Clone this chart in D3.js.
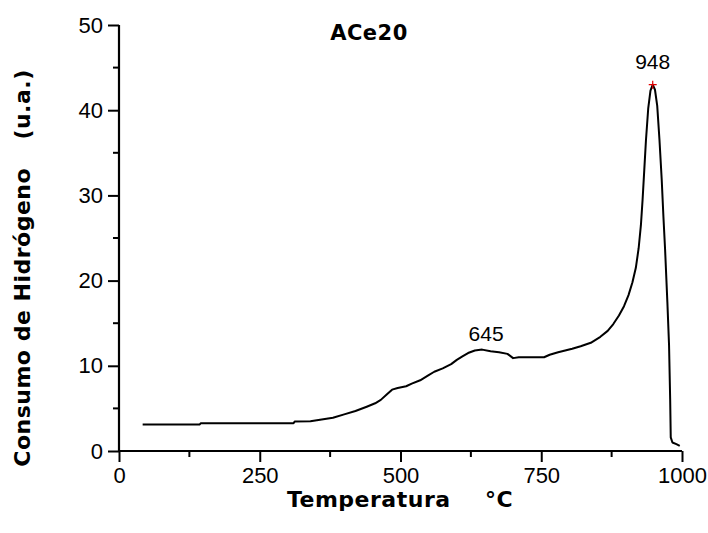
<!DOCTYPE html>
<html>
<head>
<meta charset="utf-8">
<script src="https://cdn.jsdelivr.net/npm/d3@7"></script>
<style>
  html, body { margin: 0; padding: 0; background: #fff; }
  svg { display: block; }
  text { white-space: pre; }
</style>
</head>
<body>
<div id="chart"></div>
<script>
// TPR profile of sample ACe20: hydrogen consumption vs temperature
const temperature = [42, 143, 145, 310, 312, 340, 360, 380, 400, 420, 440, 455, 465, 475, 485, 495, 510, 520, 535, 550, 560, 575, 590, 600, 610, 620, 632, 645, 660, 675, 690, 700, 710, 730, 755, 765, 780, 805, 820, 838, 855, 868, 878, 888, 897, 905, 912, 918, 923, 927, 930, 933, 936, 940, 944, 948, 952, 956, 960, 964, 967, 970, 974, 977, 979, 980, 983, 990, 996];
const consumption = [3.1, 3.1, 3.25, 3.25, 3.45, 3.5, 3.7, 3.9, 4.3, 4.7, 5.2, 5.6, 6.0, 6.6, 7.2, 7.4, 7.6, 7.9, 8.3, 8.9, 9.3, 9.7, 10.2, 10.7, 11.1, 11.5, 11.8, 11.9, 11.7, 11.6, 11.4, 10.9, 11.0, 11.0, 11.0, 11.3, 11.6, 12.0, 12.3, 12.7, 13.4, 14.1, 14.9, 15.9, 17.0, 18.3, 19.8, 21.5, 23.8, 26.5, 29.5, 33.0, 36.5, 40.2, 42.3, 43.0, 42.4, 40.5, 36.5, 31.8, 27.5, 23.6, 17.5, 12.4, 6.0, 1.6, 1.0, 0.8, 0.6];

// Annotated peaks
const peakTemps = [645, 948];
const peakValues = [11.9, 43.0];
const peakMarked = [false, true];

const xTicks = [0, 250, 500, 750, 1000];
const xMinorTicks = [125, 375, 625, 875];
const yTicks = [0, 10, 20, 30, 40, 50];
const yMinorTicks = [5, 15, 25, 35, 45];

const chartTitle = "ACe20";
const xTitleMain = "Temperatura";
const xTitleUnit = "  °C";
const yTitleMain = "Consumo de Hidrógeno";
const yTitleUnit = "  (u.a.)";

const W = 708, H = 533;
const plotLeft = 119, plotRight = 682, plotTop = 25, plotBottom = 451;

const svg = d3.select("#chart").append("svg")
  .attr("width", W).attr("height", H);

const x = d3.scaleLinear().domain([0, 1000]).range([plotLeft, plotRight]);
const y = d3.scaleLinear().domain([0, 50]).range([plotBottom, plotTop]);

const tickFont = "'Liberation Sans', Arial, sans-serif";
const boldFont = "'DejaVu Sans', Verdana, sans-serif";

// Axes
const xAxis = d3.axisBottom(x).tickValues(xTicks).tickSize(11).tickPadding(5).tickFormat(d3.format("d"));
const yAxis = d3.axisLeft(y).tickValues(yTicks).tickSize(11).tickPadding(5).tickFormat(d3.format("d"));

const gx = svg.append("g").attr("transform", `translate(0,${plotBottom})`).call(xAxis);
const gy = svg.append("g").attr("transform", `translate(${plotLeft},0)`).call(yAxis);

[gx, gy].forEach(g => {
  g.select(".domain").attr("stroke", "#000").attr("stroke-width", 2.2);
  g.selectAll(".tick line").attr("stroke", "#000").attr("stroke-width", 2);
  g.selectAll(".tick text").attr("fill", "#000")
    .style("font-family", tickFont).style("font-size", "22px");
});
gx.select(".domain").attr("d", `M${plotLeft},0H${plotRight}`);
gy.select(".domain").attr("d", `M0,${plotBottom}V${plotTop}`);

// Minor ticks
gx.selectAll(".minor").data(xMinorTicks).join("line")
  .attr("class", "minor")
  .attr("x1", d => x(d)).attr("x2", d => x(d))
  .attr("y1", 0).attr("y2", 6)
  .attr("stroke", "#000").attr("stroke-width", 2);
gy.selectAll(".minor").data(yMinorTicks).join("line")
  .attr("class", "minor")
  .attr("y1", d => y(d)).attr("y2", d => y(d))
  .attr("x1", 0).attr("x2", -6)
  .attr("stroke", "#000").attr("stroke-width", 2);

// Profile curve
const pts = temperature.map((t, i) => [t, consumption[i]]);
svg.append("path")
  .datum(pts)
  .attr("fill", "none")
  .attr("stroke", "#000")
  .attr("stroke-width", 2)
  .attr("stroke-linejoin", "round")
  .attr("d", d3.line().x(d => x(d[0])).y(d => y(d[1])));

// Peak labels and marker
peakTemps.forEach((t, i) => {
  svg.append("text")
    .attr("x", x(t) + (peakMarked[i] ? 0 : 4))
    .attr("y", y(peakValues[i]) - (peakMarked[i] ? 16 : 9))
    .attr("text-anchor", "middle")
    .style("font-family", tickFont).style("font-size", "21px")
    .text(String(t));
  if (peakMarked[i]) {
    const cx = x(t), cy = y(peakValues[i]);
    svg.append("path")
      .attr("d", `M${cx - 4},${cy}H${cx + 4}M${cx},${cy - 4}V${cy + 4}`)
      .attr("stroke", "#e00000").attr("stroke-width", 1.2);
  }
});

// Titles
svg.append("text")
  .attr("x", 369).attr("y", 40)
  .attr("text-anchor", "middle")
  .style("font-family", boldFont).style("font-weight", "bold")
  .style("font-size", "21px").style("letter-spacing", "0.5px")
  .text(chartTitle);

const xt = svg.append("text")
  .attr("x", 400).attr("y", 507)
  .attr("text-anchor", "middle")
  .style("font-family", boldFont).style("font-weight", "bold")
  .style("font-size", "22px").style("letter-spacing", "0.5px");
xt.append("tspan").text(xTitleMain);
xt.append("tspan").attr("dx", 18).text(xTitleUnit);

const yt = svg.append("text")
  .attr("transform", `translate(30,268) rotate(-90)`)
  .attr("text-anchor", "middle")
  .style("font-family", boldFont).style("font-weight", "bold")
  .style("font-size", "22px").style("letter-spacing", "0.5px");
yt.append("tspan").text(yTitleMain);
yt.append("tspan").attr("dx", 12).text(yTitleUnit);
</script>
</body>
</html>
